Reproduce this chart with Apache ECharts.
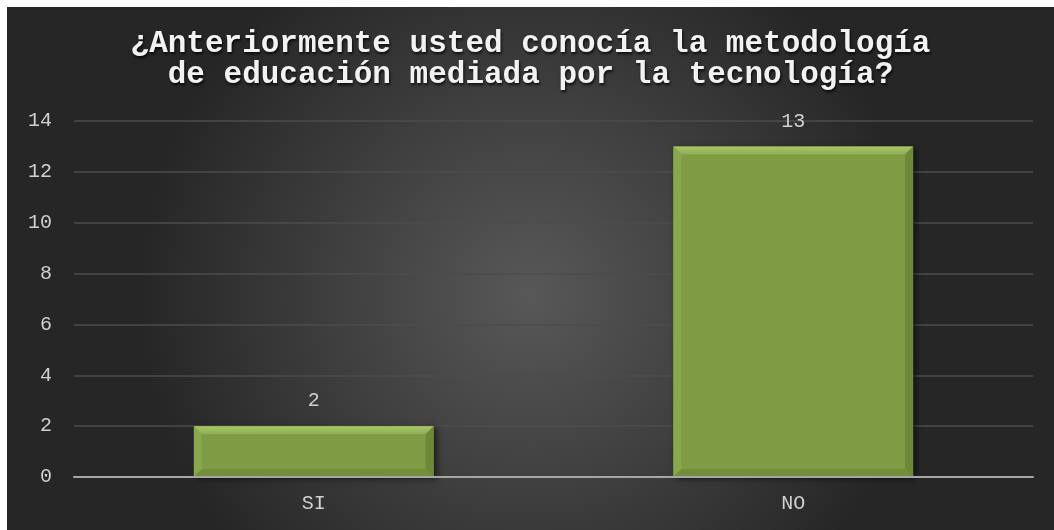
<!DOCTYPE html>
<html>
<head>
<meta charset="utf-8">
<script src="https://cdn.jsdelivr.net/npm/echarts@6/dist/echarts.min.js"></script>
<style>
html,body{margin:0;padding:0;background:#fff;}
#c{position:absolute;left:7px;top:7px;width:1047px;height:523px;}
</style>
</head>
<body>
<div id="c"></div>
<script>
const titleText = "¿Anteriormente usted conocía la metodología\nde educación mediada por la tecnología?";
const categories = ["SI", "NO"];
const values = [2, 13];
const yTicks = {min: 0, max: 14, interval: 2};

const FONT = '"Liberation Mono", "Courier New", monospace';
const chart = echarts.init(document.getElementById('c'));
chart.setOption({
  animation: false,
  backgroundColor: {
    type: 'radial', x: 0.5, y: 0.55, r: 0.75,
    colorStops: [{offset: 0, color: '#585858'}, {offset: 1, color: '#262626'}]
  },
  title: {
    text: titleText,
    left: 'center',
    top: 17,
    textStyle: {
      fontFamily: FONT, fontSize: 31, fontWeight: 'bold', color: '#f2f2f2',
      lineHeight: 31,
      textShadowColor: 'rgba(0,0,0,0.8)', textShadowBlur: 3, textShadowOffsetX: 1, textShadowOffsetY: 2
    }
  },
  grid: {left: 67, right: 21, top: 114, bottom: 53},
  xAxis: {
    type: 'category',
    data: categories,
    z: 5,
    axisLine: {lineStyle: {color: '#a6a6a6', width: 2}},
    axisTick: {show: false},
    axisLabel: {fontFamily: FONT, fontSize: 20, color: '#d0d0d0', margin: 17}
  },
  yAxis: {
    type: 'value',
    min: yTicks.min, max: yTicks.max, interval: yTicks.interval,
    axisLine: {show: false},
    axisTick: {show: false},
    splitLine: {lineStyle: {color: '#4c4c4c', width: 1.5}},
    axisLabel: {fontFamily: FONT, fontSize: 20, color: '#d0d0d0', margin: 22}
  },
  series: [{
    type: 'custom',
    z: 2,
    data: categories.map((c, i) => [i, values[i]]),
    encode: {x: 0, y: 1},
    renderItem: function (params, api) {
      const v = api.value(1);
      const base = api.coord([api.value(0), 0]);
      const top = api.coord([api.value(0), v]);
      const w = api.size([1, 0])[0] * 0.5;
      const x0 = base[0] - w / 2, x1 = base[0] + w / 2;
      const y0 = top[1], y1 = base[1];
      const b = Math.min(8, (y1 - y0) / 2);
      return {
        type: 'group',
        children: [
          {type: 'rect', shape: {x: x0, y: y0, width: w, height: y1 - y0},
           style: {fill: '#7f9c45', shadowBlur: 6, shadowColor: 'rgba(0,0,0,0.55)', shadowOffsetX: 3, shadowOffsetY: 2}},
          {type: 'polygon', shape: {points: [[x0, y0], [x1, y0], [x1 - b, y0 + b], [x0 + b, y0 + b]]},
           style: {fill: {type: 'linear', x: 0, y: 0, x2: 0, y2: 1, colorStops: [{offset: 0, color: '#a9c66a'}, {offset: 1, color: '#8fad52'}]}}},
          {type: 'polygon', shape: {points: [[x0, y0], [x0 + b, y0 + b], [x0 + b, y1 - b], [x0, y1]]},
           style: {fill: '#89a74d'}},
          {type: 'polygon', shape: {points: [[x1, y0], [x1, y1], [x1 - b, y1 - b], [x1 - b, y0 + b]]},
           style: {fill: '#6d8838'}},
          {type: 'polygon', shape: {points: [[x0, y1], [x0 + b, y1 - b], [x1 - b, y1 - b], [x1, y1]]},
           style: {fill: '#728e3b'}},
          {type: 'text', style: {text: String(v), x: base[0], y: y0 - 25, align: 'center', verticalAlign: 'middle',
            fill: '#d0d0d0', font: '20px ' + FONT}}
        ]
      };
    }
  }]
});
</script>
</body>
</html>
